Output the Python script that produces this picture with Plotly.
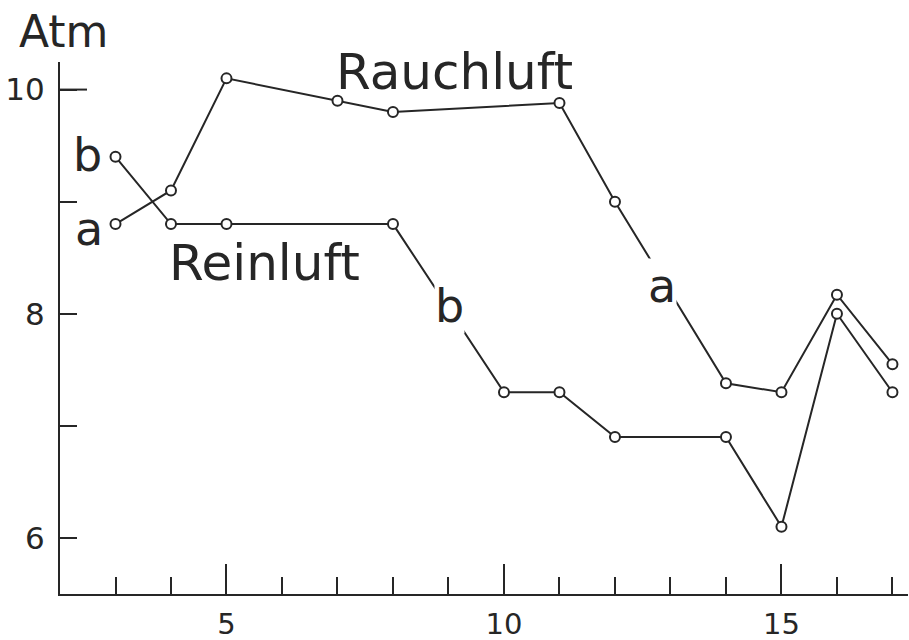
import plotly.graph_objects as go

# Data
x_rauch = [3, 4, 5, 7, 8, 11, 12, 14, 15, 16, 17]
y_rauch = [8.8, 9.1, 10.1, 9.9, 9.8, 9.88, 9.0, 7.38, 7.3, 8.17, 7.55]

x_rein = [3, 4, 5, 8, 10, 11, 12, 14, 15, 16, 17]
y_rein = [9.4, 8.8, 8.8, 8.8, 7.3, 7.3, 6.9, 6.9, 6.1, 8.0, 7.3]

x_major_ticks = [5, 10, 15]
x_minor_ticks = [3, 4, 6, 7, 8, 9, 11, 12, 13, 14, 16, 17]
y_tick_vals = [6, 8, 10]
y_tick_text = ["6", "8", "10"]
y_minor_ticks = [7, 9]

INK = "#262626"
FONT = "DejaVu Sans"

fig = go.Figure()
for xs, ys in [(x_rauch, y_rauch), (x_rein, y_rein)]:
    fig.add_trace(go.Scatter(
        x=xs, y=ys, mode="lines+markers",
        line=dict(color=INK, width=2),
        marker=dict(symbol="circle", size=10, color="white",
                    line=dict(color=INK, width=2)),
        showlegend=False, cliponaxis=False, hoverinfo="skip",
    ))

fig.update_layout(
    width=909, height=640,
    margin=dict(l=60, r=1, t=62, b=46, autoexpand=False),
    paper_bgcolor="white", plot_bgcolor="white",
    font=dict(family=FONT, color=INK),
    showlegend=False,
)
fig.update_xaxes(
    range=[2, 17.28], showgrid=False, zeroline=False, automargin=False,
    showline=True, linecolor=INK, linewidth=2,
    tickmode="array", tickvals=x_major_ticks,
    ticks="inside", ticklen=30, tickwidth=2, tickcolor=INK,
    tickfont=dict(size=29, family=FONT, color=INK),
    ticklabelstandoff=3,
    minor=dict(tickmode="array", tickvals=x_minor_ticks, ticks="inside",
               ticklen=17, tickwidth=2, tickcolor=INK, showgrid=False),
)
fig.update_yaxes(
    range=[5.5, 10.246], showgrid=False, zeroline=False, automargin=False,
    showline=True, linecolor=INK, linewidth=2,
    tickmode="array", tickvals=y_tick_vals, ticktext=y_tick_text,
    ticks="inside", ticklen=17, tickwidth=2, tickcolor=INK,
    tickfont=dict(size=31, family=FONT, color=INK),
    ticklabelstandoff=7,
    minor=dict(tickmode="array", tickvals=y_minor_ticks, ticks="inside",
               ticklen=17, tickwidth=2, tickcolor=INK, showgrid=False),
)

# longer tick at 10
fig.add_shape(type="line", xref="paper", yref="y", x0=0, x1=27/848,
              y0=10, y1=10, line=dict(color=INK, width=2))

def label(text, x, y, size, bg=None, xref="x", yref="y"):
    fig.add_annotation(text=text, x=x, y=y, xref=xref, yref=yref,
                       showarrow=False, xanchor="center", yanchor="middle",
                       font=dict(size=size, family=FONT, color=INK),
                       bgcolor=bg, borderpad=0)

label("Atm", (63 - 60) / 848, (594 - 32) / 532, 44, xref="paper", yref="paper")
label("Rauchluft", 9.10, 10.16, 50)
label("Reinluft", 5.69, 8.45, 50)
label("b", 2.50, 9.42, 46)
label("a", 2.52, 8.76, 46)
label("b", 9.01, 8.07, 46, bg="white")
label("a", 12.85, 8.25, 46, bg="white")

fig.write_html("out.html",
               config={"displayModeBar": False, "staticPlot": True},
               post_script="document.body.style.margin='0';document.body.style.overflow='hidden';")
